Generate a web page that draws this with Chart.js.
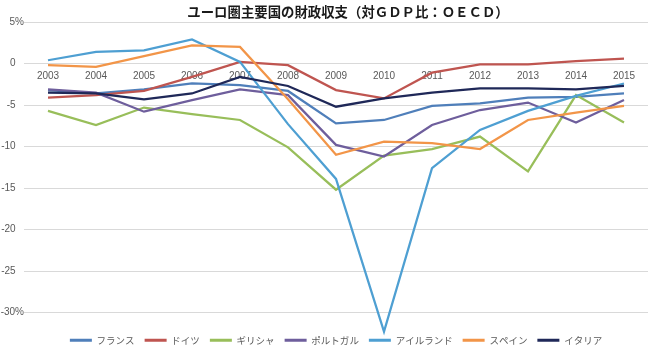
<!DOCTYPE html>
<html>
<head>
<meta charset="utf-8">
<script src="https://cdn.jsdelivr.net/npm/chart.js@4"></script>
<style>
  html, body { margin: 0; padding: 0; background: #fff; }
  #wrap { width: 650px; height: 348px; }
</style>
</head>
<body>
<div id="wrap"><canvas id="chart" width="650" height="348"></canvas></div>
<script>
// data (general government balance, % of GDP)
const years = ["2003", "2004", "2005", "2006", "2007", "2008", "2009", "2010", "2011", "2012", "2013", "2014", "2015"];
const countries = ["フランス", "ドイツ", "ギリシャ", "ポルトガル", "アイルランド", "スペイン", "イタリア"];
const france   = [-3.2, -3.6, -3.1, -2.4, -2.6, -3.3, -7.2, -6.8, -5.1, -4.8, -4.1, -4.0, -3.6];
const germany  = [-4.1, -3.8, -3.3, -1.6, 0.2, -0.2, -3.2, -4.2, -1.1, -0.1, -0.1, 0.3, 0.6];
const greece   = [-5.7, -7.4, -5.3, -6.1, -6.8, -10.1, -15.2, -11.1, -10.3, -8.8, -13.0, -3.8, -7.1];
const portugal = [-3.1, -3.5, -5.8, -4.4, -3.1, -3.8, -9.8, -11.2, -7.4, -5.6, -4.7, -7.1, -4.4];
const ireland  = [0.4, 1.4, 1.6, 2.9, 0.2, -7.3, -13.9, -32.3, -12.6, -8.0, -5.7, -3.9, -2.4];
const spain    = [-0.2, -0.4, 0.9, 2.2, 2.0, -4.3, -11.0, -9.4, -9.6, -10.3, -6.8, -5.9, -5.1];
const italy    = [-3.5, -3.6, -4.3, -3.6, -1.6, -2.7, -5.2, -4.2, -3.5, -3.0, -3.0, -3.1, -2.7];
const yMin = -30, yMax = 5, yStep = 5;

const series = [france, germany, greece, portugal, ireland, spain, italy];
const colors = ["#4F7FBA", "#BF5550", "#98BE5A", "#6E5E9C", "#4E9FD2", "#F29548", "#1F2858"];

const tickColor = "#595959";
const numFont = { family: "'Liberation Sans', 'Noto Sans', sans-serif", size: 10 };
const jpFont = "'Noto Sans CJK JP', sans-serif";

// the original title sits a little right of the plot centre
const shiftTitle = {
  id: "shiftTitle",
  afterLayout(chart) {
    if (chart.titleBlock) chart.titleBlock.left += 24;
  },
};

new Chart(document.getElementById("chart"), {
  type: "line",
  data: {
    labels: years,
    datasets: series.map((vals, i) => ({
      label: countries[i],
      data: vals,
      borderColor: colors[i],
      backgroundColor: colors[i],
      borderWidth: 2.25,
      pointRadius: 0,
      tension: 0,
      clip: false,
      order: series.length - i, // later series on top, like the original
    })),
  },
  plugins: [shiftTitle],
  options: {
    responsive: false,
    animation: false,
    layout: { padding: { top: 0, left: 0, right: 2, bottom: -7 } },
    plugins: {
      tooltip: { enabled: false },
      title: {
        display: true,
        fullSize: false,
        text: "ユーロ圏主要国の財政収支（対ＧＤＰ比：ＯＥＣＤ）",
        color: "#1a1a1a",
        font: { family: jpFont, size: 13.4, weight: "bold" },
        padding: { top: 4, bottom: 2 },
      },
      legend: {
        position: "bottom",
        fullSize: false,
        title: { display: true, text: "", font: { size: 0 }, padding: { top: 13, bottom: 0 } },
        labels: {
          color: tickColor,
          font: { family: jpFont, size: 9.5 },
          boxWidth: 22,
          boxHeight: 3,
          padding: 10,
          sort: (a, b) => a.datasetIndex - b.datasetIndex,
          generateLabels: (chart) =>
            Chart.defaults.plugins.legend.labels.generateLabels(chart).map((l) => ({
              ...l,
              fillStyle: l.strokeStyle,
              lineWidth: 0,
            })),
        },
      },
    },
    scales: {
      x: {
        position: { y: 0 },
        offset: true,
        grid: { display: false, drawTicks: false },
        border: { display: false },
        ticks: { color: tickColor, font: numFont, padding: 7, maxRotation: 0, autoSkip: false },
      },
      y: {
        min: yMin,
        max: yMax,
        afterFit: (s) => { s.width = 24; },
        grid: { color: "#d9d9d9", lineWidth: 1, drawTicks: false },
        border: { display: false },
        ticks: {
          stepSize: yStep,
          color: tickColor,
          font: numFont,
          padding: 0,
          // numbers line up as if the "%" column were there
          callback: (v) => (v === yMax || v === yMin ? v + "%" : v + "   "),
        },
      },
    },
  },
});
</script>
</body>
</html>
